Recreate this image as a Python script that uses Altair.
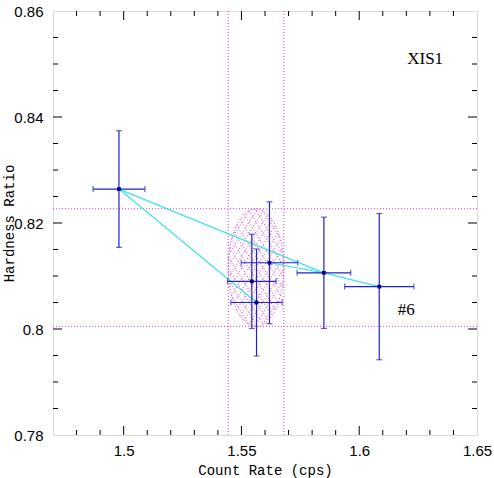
import altair as alt
import numpy as np
import pandas as pd

# Observations: count rate vs. hardness ratio with 1-sigma errors
rate = [1.4980, 1.5619, 1.5544, 1.5564, 1.5850, 1.6085]
rate_err = [0.0110, 0.0120, 0.0103, 0.0109, 0.0114, 0.0147]
ratio = [0.8264, 0.8125, 0.8090, 0.8050, 0.8106, 0.8080]
ratio_err = [0.0110, 0.0115, 0.0089, 0.0101, 0.0105, 0.0138]

# Connecting segments between observations (indices into the arrays above)
seg_start = [0, 0, 1, 4]
seg_end = [4, 3, 4, 5]

# Mean and spread of the sample
mean_rate, sd_rate = 1.5562, 0.0118
mean_ratio, sd_ratio = 0.8116, 0.0111

# Axis ranges and ticks
x_dom = [1.47, 1.65]
y_dom = [0.78, 0.86]
x_major = [1.5, 1.55, 1.6, 1.65]
x_minor = [1.48, 1.49, 1.51, 1.52, 1.53, 1.54, 1.56, 1.57, 1.58, 1.59,
           1.61, 1.62, 1.63, 1.64]
y_major = [0.78, 0.80, 0.82, 0.84, 0.86]
y_minor = [0.785, 0.79, 0.795, 0.805, 0.81, 0.815, 0.825, 0.83, 0.835,
           0.845, 0.85, 0.855]

W, H = 424, 424
BLUE = "#2222c8"
MAG = "#e03ae0"
CYAN = "#3fe3ee"

xs = alt.Scale(domain=x_dom, nice=False, zero=False)
ys = alt.Scale(domain=y_dom, nice=False, zero=False)

pts = pd.DataFrame({"x": rate, "xe": rate_err, "y": ratio, "ye": ratio_err})
pts["x0"] = pts.x - pts.xe
pts["x1"] = pts.x + pts.xe
pts["y0"] = pts.y - pts.ye
pts["y1"] = pts.y + pts.ye

# segment table
seg_rows = []
for k, (i, j) in enumerate(zip(seg_start, seg_end)):
    seg_rows.append({"seg": k, "o": 0, "x": rate[i], "y": ratio[i]})
    seg_rows.append({"seg": k, "o": 1, "x": rate[j], "y": ratio[j]})
segs = pd.DataFrame(seg_rows)

# spread ellipse outline and its cross-hatching (worked out in pixel space)
kx = W / (x_dom[1] - x_dom[0])
ky = H / (y_dom[1] - y_dom[0])
a = sd_rate * kx
b = sd_ratio * ky
t = np.linspace(0, 2 * np.pi, 121)
ell = pd.DataFrame({"o": np.arange(len(t)),
                    "x": mean_rate + sd_rate * np.cos(t),
                    "y": mean_ratio + sd_ratio * np.sin(t)})

hatch_rows = []
hid = 0
for ang in (np.radians(58), np.radians(-58)):
    dx, dy = np.cos(ang), np.sin(ang)
    nx, ny = -dy, dx
    for off in np.arange(-60, 61, 6.0):
        A = (dx / a) ** 2 + (dy / b) ** 2
        B = 2 * off * (nx * dx / a ** 2 + ny * dy / b ** 2)
        C = off ** 2 * ((nx / a) ** 2 + (ny / b) ** 2) - 1
        disc = B * B - 4 * A * C
        if disc <= 0:
            continue
        for o, tt in enumerate(((-B - np.sqrt(disc)) / (2 * A),
                                (-B + np.sqrt(disc)) / (2 * A))):
            px = off * nx + tt * dx
            py = off * ny + tt * dy
            hatch_rows.append({"h": hid, "o": o,
                               "x": mean_rate + px / kx,
                               "y": mean_ratio + py / ky})
        hid += 1
hatch = pd.DataFrame(hatch_rows)

base_x = alt.X("x:Q", scale=xs)
base_y = alt.Y("y:Q", scale=ys)

# axes carry labels and titles only; tick marks are drawn inside the frame
x_axis = alt.Axis(values=x_major, format="~g", ticks=False, domain=False,
                  grid=False, labelFlush=False, labelOverlap=False,
                  labelFont="Liberation Sans", labelFontSize=15,
                  labelColor="black", labelPadding=8,
                  title="Count Rate (cps)", titleFont="Liberation Mono",
                  titleFontSize=14, titleFontWeight="normal",
                  titleColor="black", titleY=39, titleBaseline="alphabetic")
y_axis = alt.Axis(values=y_major, format="~g", ticks=False, domain=False,
                  grid=False, labelFlush=False, labelOverlap=False,
                  labelFont="Liberation Sans", labelFontSize=15,
                  labelColor="black", labelPadding=10,
                  title="Hardness Ratio", titleFont="Liberation Mono",
                  titleFontSize=14, titleFontWeight="normal",
                  titleColor="black", titleX=-44, titleBaseline="middle")

# ellipse
ell_line = alt.Chart(ell).mark_line(color=MAG, strokeWidth=1,
                                    strokeDash=[1, 2]).encode(
    x=alt.X("x:Q", scale=xs, axis=x_axis),
    y=alt.Y("y:Q", scale=ys, axis=y_axis),
    order="o:Q")
hatch_lines = alt.Chart(hatch).mark_line(color=MAG, strokeWidth=1,
                                         strokeDash=[1, 2]).encode(
    x=base_x, y=base_y, detail="h:N", order="o:Q")

# mean +/- spread guide lines
vguides = alt.Chart(pd.DataFrame({"x": [mean_rate - sd_rate,
                                        mean_rate + sd_rate]})).mark_rule(
    color=MAG, strokeWidth=1, strokeDash=[1, 2]).encode(x=base_x)
hguides = alt.Chart(pd.DataFrame({"y": [mean_ratio - sd_ratio,
                                        mean_ratio + sd_ratio]})).mark_rule(
    color=MAG, strokeWidth=1, strokeDash=[1, 2]).encode(y=base_y)

seg_lines = alt.Chart(segs).mark_line(color=CYAN, strokeWidth=1.2).encode(
    x=base_x, y=base_y, detail="seg:N", order="o:Q")

xbars = alt.Chart(pts).mark_rule(color=BLUE, strokeWidth=1.2).encode(
    x=alt.X("x0:Q", scale=xs), x2="x1:Q", y=alt.Y("y:Q", scale=ys))
ybars = alt.Chart(pts).mark_rule(color=BLUE, strokeWidth=1.2).encode(
    x=alt.X("x:Q", scale=xs), y=alt.Y("y0:Q", scale=ys), y2="y1:Q")
xcap_l = alt.Chart(pts).mark_tick(color=BLUE, orient="vertical", size=6,
                                  thickness=1.2).encode(
    x=alt.X("x0:Q", scale=xs), y=alt.Y("y:Q", scale=ys))
xcap_r = alt.Chart(pts).mark_tick(color=BLUE, orient="vertical", size=6,
                                  thickness=1.2).encode(
    x=alt.X("x1:Q", scale=xs), y=alt.Y("y:Q", scale=ys))
ycap_t = alt.Chart(pts).mark_tick(color=BLUE, orient="horizontal", size=6,
                                  thickness=1.2).encode(
    x=alt.X("x:Q", scale=xs), y=alt.Y("y1:Q", scale=ys))
ycap_b = alt.Chart(pts).mark_tick(color=BLUE, orient="horizontal", size=6,
                                  thickness=1.2).encode(
    x=alt.X("x:Q", scale=xs), y=alt.Y("y0:Q", scale=ys))
centers = alt.Chart(pts).mark_square(color="#000080", size=14,
                                     opacity=1).encode(x=base_x, y=base_y)

# inward tick marks on all four sides
def xticks(vals, length):
    d = pd.DataFrame({"x": vals})
    bot = alt.Chart(d).mark_rule(color="black", strokeWidth=1).encode(
        x=base_x, y=alt.value(H), y2=alt.value(H - length))
    top = alt.Chart(d).mark_rule(color="black", strokeWidth=1).encode(
        x=base_x, y=alt.value(0), y2=alt.value(length))
    return bot + top


def yticks(vals, length):
    d = pd.DataFrame({"y": vals})
    left = alt.Chart(d).mark_rule(color="black", strokeWidth=1).encode(
        y=base_y, x=alt.value(0), x2=alt.value(length))
    right = alt.Chart(d).mark_rule(color="black", strokeWidth=1).encode(
        y=base_y, x=alt.value(W), x2=alt.value(W - length))
    return left + right


ticks = (xticks(x_major[:-1], 9) + xticks(x_minor, 5)
         + yticks(y_major[1:-1], 9) + yticks(y_minor, 5))

labels = pd.DataFrame({"x": [1.628, 1.620], "y": [0.8510, 0.8036],
                       "t": ["XIS1", "#6"]})
lab = alt.Chart(labels).mark_text(font="Liberation Serif", fontSize=17,
                                  color="black", baseline="middle",
                                  align="center").encode(
    x=base_x, y=base_y, text="t:N")

chart = alt.layer(
    ell_line, hatch_lines, vguides, hguides, seg_lines,
    xbars, ybars, xcap_l, xcap_r, ycap_t, ycap_b, centers, ticks, lab
).properties(
    width=W, height=H,
    autosize=alt.AutoSizeParams(type="none"),
    padding={"left": 53, "top": 11, "right": 17, "bottom": 43},
).configure_view(stroke="black", strokeWidth=1.2).configure(
    background="white")

chart.save("out.html", embed_options={"renderer": "svg", "actions": False})
